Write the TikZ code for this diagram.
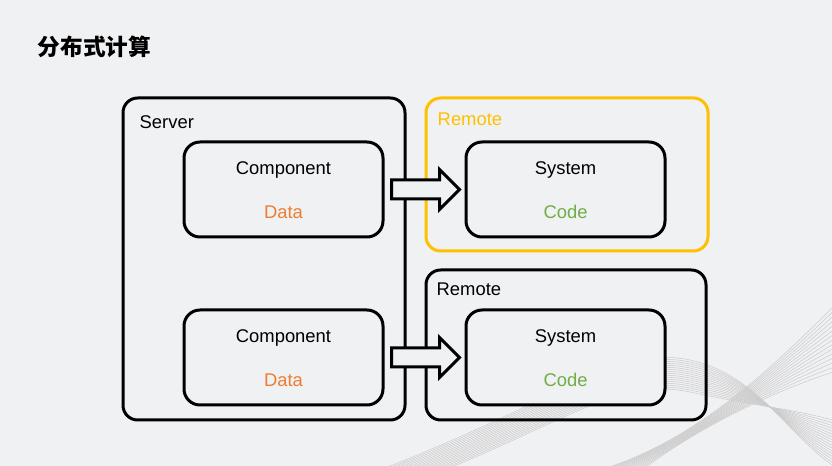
\documentclass[tikz,border=0pt]{standalone}
\usepackage{fontspec}
\setmainfont{Liberation Sans}
\newfontfamily\cjk{Noto Sans CJK SC}
\definecolor{bg}{RGB}{240,241,243}
\definecolor{dataorange}{RGB}{237,125,49}
\definecolor{codegreen}{RGB}{112,173,71}
\definecolor{remoteyellow}{RGB}{255,192,0}
\tikzset{
  box/.style={draw, line width=2.25pt, rounded corners=12pt, fill=bg},
  outerbox/.style={draw, line width=2.25pt, rounded corners=11pt},
  blockarrow/.style={draw, line width=2.25pt, fill=bg, miter limit=10},
  wave/.style={draw=gray!40, line width=0.4pt},
  lbl/.style={font=\fontsize{13.8}{16}\selectfont}
}
\begin{document}
\begin{tikzpicture}[x=0.75pt,y=-0.75pt]

\fill[bg] (0,0) rectangle (832,466);
\useasboundingbox (0,0) rectangle (832,466);

\begin{scope}
\clip (0,0) rectangle (832,466);
\foreach \i in {0,...,16}
  \draw[wave] (380+\i*4,470) .. controls (560,400+\i*1.5) and (620,345+\i*2) .. (690,360+\i*2) .. controls (760,375+\i*2) and (790,440-\i*2) .. (840,470-\i*3);
\foreach \i in {0,...,14}
  \draw[wave] (600+\i*3,470) .. controls (700,440-\i) and (780,360+\i*2) .. (840,300+\i*5);
\end{scope}

\node[font=\cjk\bfseries\fontsize{17}{20}\selectfont, anchor=west] (title) at (33,47) {分布式计算};

\node[outerbox, minimum width=211.5pt, minimum height=241.5pt] (server) at (264,259) {};
\node[outerbox, draw=remoteyellow, minimum width=211.5pt, minimum height=114.75pt] (remote1) at (567,174.5) {};
\node[outerbox, minimum width=210pt, minimum height=112.5pt] (remote2) at (566,345) {};

\node[box, minimum width=149.25pt, minimum height=71.25pt] (comp1) at (283.5,189.5) {};
\node[box, minimum width=149.25pt, minimum height=71.25pt] (comp2) at (283.5,357.5) {};
\node[box, minimum width=149.25pt, minimum height=71.25pt] (sys1) at (565.5,189.5) {};
\node[box, minimum width=149.25pt, minimum height=71.25pt] (sys2) at (565.5,357.5) {};

\node[lbl, anchor=west] (serverlbl) at (135,122) {Server};
\node[lbl, anchor=west, text=remoteyellow] (remote1lbl) at (433,119) {Remote};
\node[lbl, anchor=west] (remote2lbl) at (432,289) {Remote};

\node[lbl] (comp1name) at (283.5,169.5) {Component};
\node[lbl, text=dataorange] (comp1data) at (283.5,212) {Data};
\node[lbl] (comp2name) at (283.5,337.5) {Component};
\node[lbl, text=dataorange] (comp2data) at (283.5,380) {Data};
\node[lbl] (sys1name) at (565.5,169.5) {System};
\node[lbl, text=codegreen] (sys1code) at (565.5,212) {Code};
\node[lbl] (sys2name) at (565.5,337.5) {System};
\node[lbl, text=codegreen] (sys2code) at (565.5,380) {Code};

\coordinate (arr1) at ([xshift=5.25pt]comp1.east);
\coordinate (arr2) at ([xshift=5.25pt]comp2.east);
\draw[blockarrow] (arr1) ++(0,-9.5) -- ++(48,0) -- ++(0,-10.5) -- ++(20,20) -- ++(-20,20) -- ++(0,-10.5) -- ++(-48,0) -- cycle;
\draw[blockarrow] (arr2) ++(0,-9.5) -- ++(48,0) -- ++(0,-10.5) -- ++(20,20) -- ++(-20,20) -- ++(0,-10.5) -- ++(-48,0) -- cycle;

\end{tikzpicture}
\end{document}
